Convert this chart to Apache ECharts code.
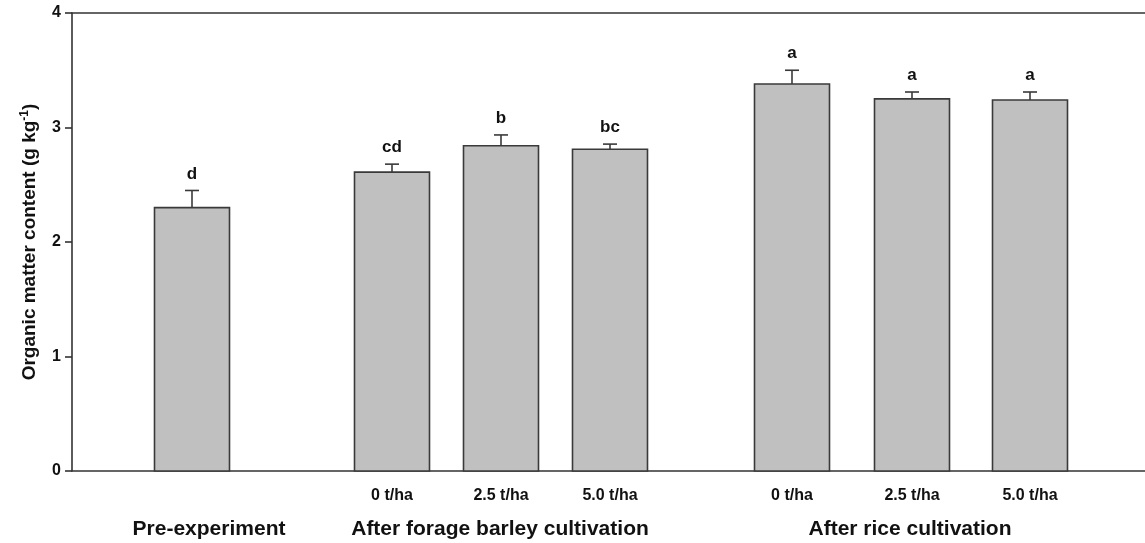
<!DOCTYPE html>
<html>
<head>
<meta charset="utf-8">
<title>Organic matter content</title>
<script src="https://cdn.jsdelivr.net/npm/echarts@6/dist/echarts.min.js"></script>
<style>
  html, body { margin: 0; padding: 0; background: #fff; }
  #chart { width: 1145px; height: 543px; }
</style>
</head>
<body>
<div id="chart"></div>
<script>
// data
const treatments = ['', '0 t/ha', '2.5 t/ha', '5.0 t/ha', '0 t/ha', '2.5 t/ha', '5.0 t/ha'];
const xPos = [1.2, 3.2, 4.29, 5.38, 7.2, 8.4, 9.58];          // bar centres on the x scale
const means = [2.30, 2.61, 2.84, 2.81, 3.38, 3.25, 3.24];
const errUp = [2.45, 2.68, 2.935, 2.855, 3.50, 3.31, 3.31];     // top of error bar
const letters = ['d', 'cd', 'b', 'bc', 'a', 'a', 'a'];
const groups = ['Pre-experiment', 'After forage barley cultivation', 'After rice cultivation'];
const groupPos = [1.37, 4.28, 8.38];
const yTicks = [0, 1, 2, 3, 4];

const BAR_W = 0.75;
const FONT = '"Liberation Sans", Arial, sans-serif';

const chart = echarts.init(document.getElementById('chart'));

// 柱子 + 误差线 + 字母
const renderBar = (params, api) => {
  const x = api.value(0);
  const v = api.value(1);
  const e = api.value(2);
  const base = api.coord([x, 0]);
  const top = api.coord([x, v]);
  const errTop = api.coord([x, e]);
  const w = api.size([BAR_W, 0])[0];
  const capW = 14;
  return {
    type: 'group',
    children: [
      {
        type: 'rect',
        shape: { x: base[0] - w / 2, y: top[1], width: w, height: base[1] - top[1] },
        style: { fill: '#c0c0c0', stroke: '#3a3a3a', lineWidth: 1.6 }
      },
      {
        type: 'line',
        shape: { x1: top[0], y1: top[1], x2: errTop[0], y2: errTop[1] },
        style: { stroke: '#3a3a3a', lineWidth: 1.6 }
      },
      {
        type: 'line',
        shape: { x1: errTop[0] - capW / 2, y1: errTop[1], x2: errTop[0] + capW / 2, y2: errTop[1] },
        style: { stroke: '#3a3a3a', lineWidth: 1.6 }
      },
      {
        type: 'text',
        x: errTop[0],
        y: errTop[1] - 8,
        style: {
          text: letters[params.dataIndex],
          fontFamily: FONT, fontWeight: 'bold', fontSize: 17,
          fill: '#111', align: 'center', verticalAlign: 'bottom'
        }
      }
    ]
  };
};

const option = {
  backgroundColor: '#fff',
  animation: false,
  grid: { left: 72, right: 0, top: 13, bottom: 72 },
  xAxis: [
    {
      type: 'value', min: 0, max: 10.73, position: 'bottom',
      splitLine: { show: false },
      axisLine: { show: true, onZero: false, lineStyle: { color: '#333', width: 1.6 } },
      axisTick: { show: false },
      axisLabel: {
        customValues: xPos.slice(1),
        formatter: (val) => treatments[xPos.indexOf(val)],
        margin: 17,
        fontFamily: FONT, fontWeight: 'bold', fontSize: 16, color: '#111'
      }
    },
    {
      type: 'value', min: 0, max: 10.73, position: 'bottom', offset: 0,
      splitLine: { show: false },
      axisLine: { show: false },
      axisTick: { show: false },
      axisLabel: {
        customValues: groupPos,
        formatter: (val) => groups[groupPos.indexOf(val)],
        margin: 48,
        fontFamily: FONT, fontWeight: 'bold', fontSize: 21, color: '#111'
      }
    },
    {
      type: 'value', min: 0, max: 10.73, position: 'top',
      splitLine: { show: false },
      axisLine: { show: true, onZero: false, lineStyle: { color: '#333', width: 1.6 } },
      axisTick: { show: false },
      axisLabel: { show: false }
    }
  ],
  yAxis: {
    type: 'value', min: yTicks[0], max: yTicks[yTicks.length - 1], interval: 1,
    splitLine: { show: false },
    axisLine: { show: true, onZero: false, lineStyle: { color: '#333', width: 1.6 } },
    axisTick: { show: true, inside: false, length: 7, lineStyle: { color: '#333', width: 1.6 } },
    axisLabel: { margin: 11, fontFamily: FONT, fontWeight: 'bold', fontSize: 16, color: '#111' },
    name: '{t|Organic matter content (g kg}{s|-1}{t|)}',
    nameLocation: 'middle',
    nameGap: 32,
    nameTextStyle: {
      rich: {
        t: { fontFamily: FONT, fontWeight: 'bold', fontSize: 19, color: '#111' },
        s: { fontFamily: FONT, fontWeight: 'bold', fontSize: 12, color: '#111', padding: [0, 0, 9, 0] }
      }
    }
  },
  series: [
    {
      type: 'custom',
      renderItem: renderBar,
      data: xPos.map((x, i) => [x, means[i], errUp[i]]),
      clip: false
    }
  ]
};

chart.setOption(option);
</script>
</body>
</html>
